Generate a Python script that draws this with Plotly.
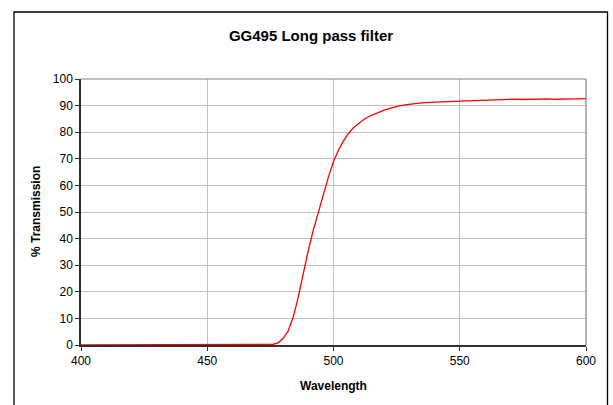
import plotly.graph_objects as go

# Data
wavelength = [400, 420, 440, 460, 470, 475, 476, 478, 480, 482, 484, 486, 488, 490,
              492, 494, 496, 498, 500, 502, 504, 506, 508, 510, 512, 514, 516, 518,
              520, 523, 526, 529, 532, 535, 538, 541, 545, 548, 550, 553, 555, 558,
              560, 562, 565, 567, 570, 572, 575, 578, 580, 583, 585, 588, 590, 593,
              595, 598, 600]
transmission = [0, 0, 0, 0, 0, 0, 0.2, 0.8, 2.4, 5.2, 10.3, 17.8, 27.0, 35.5,
                43.2, 50.2, 57.0, 63.2, 69.0, 73.3, 76.8, 79.6, 81.8, 83.4, 84.8, 85.9, 86.8, 87.6,
                88.3, 89.1, 89.9, 90.4, 90.8, 91.0, 91.2, 91.4, 91.5, 91.6, 91.7, 91.8, 91.9, 92.0,
                92.0, 92.2, 92.3, 92.1, 92.3, 92.4, 92.3, 92.4, 92.3, 92.4, 92.5, 92.3, 92.5, 92.4,
                92.5, 92.4, 92.6]

x_ticks = [400, 450, 500, 550, 600]
y_ticks = [0, 10, 20, 30, 40, 50, 60, 70, 80, 90, 100]

title_text = "GG495 Long pass filter"
x_title = "Wavelength"
y_title = "% Transmission"

FONT = "Liberation Sans, Arial, sans-serif"

fig = go.Figure()
fig.add_trace(go.Scatter(
    x=wavelength, y=transmission, mode="lines",
    line=dict(color="#ff0000", width=1.3),
    showlegend=False, hoverinfo="skip",
))

W, H = 613, 405
L, R, T, B = 81, 27, 79, 60
pw, ph = W - L - R, H - T - B

def px_x(px):
    return (px - L) / pw

def px_y(py):
    return (H - B - py) / ph

fig.update_layout(
    width=W, height=H,
    margin=dict(l=L, r=R, t=T, b=B),
    paper_bgcolor="white", plot_bgcolor="white",
    font=dict(family=FONT, size=12, color="black"),
    title=dict(text="<b>" + title_text + "</b>", x=311 / W, xanchor="center",
               y=1 - 36 / H, yanchor="middle", yref="container", xref="container",
               font=dict(family=FONT, size=15, color="black")),
    xaxis=dict(range=[400, 600], tickvals=x_ticks, ticktext=[str(v) for v in x_ticks],
               showgrid=True, gridcolor="#c0c0c0", gridwidth=1,
               showline=True, linecolor="#303030", linewidth=1.5,
               ticks="outside", ticklen=4, tickcolor="#303030", tickwidth=1,
               zeroline=False, tickfont=dict(size=12, family=FONT)),
    yaxis=dict(range=[0, 100], tickvals=y_ticks, ticktext=[str(v) for v in y_ticks],
               showgrid=True, gridcolor="#c0c0c0", gridwidth=1,
               showline=True, linecolor="#303030", linewidth=1.5,
               ticks="outside", ticklen=4, tickcolor="#303030", tickwidth=1,
               zeroline=False, tickfont=dict(size=12, family=FONT)),
    shapes=[
        # top and right plot-area borders (gray)
        dict(type="line", xref="paper", yref="paper", x0=0, x1=1, y0=1, y1=1,
             line=dict(color="#808080", width=1.2)),
        dict(type="line", xref="paper", yref="paper", x0=1, x1=1, y0=0, y1=1,
             line=dict(color="#808080", width=1.2)),
        # outer chart border
        dict(type="rect", xref="paper", yref="paper",
             x0=px_x(14), x1=px_x(607.5), y0=px_y(12), y1=px_y(420),
             line=dict(color="black", width=1.3), layer="below"),
    ],
    annotations=[
        dict(text="<b>" + x_title + "</b>", xref="paper", yref="paper",
             x=0.5, y=px_y(386), xanchor="center", yanchor="middle",
             showarrow=False, font=dict(family=FONT, size=12, color="black")),
        dict(text="<b>" + y_title + "</b>", xref="paper", yref="paper",
             x=px_x(36), y=0.5, xanchor="center", yanchor="middle", textangle=-90,
             showarrow=False, font=dict(family=FONT, size=12, color="black")),
    ],
)

fig.write_html("out.html")
